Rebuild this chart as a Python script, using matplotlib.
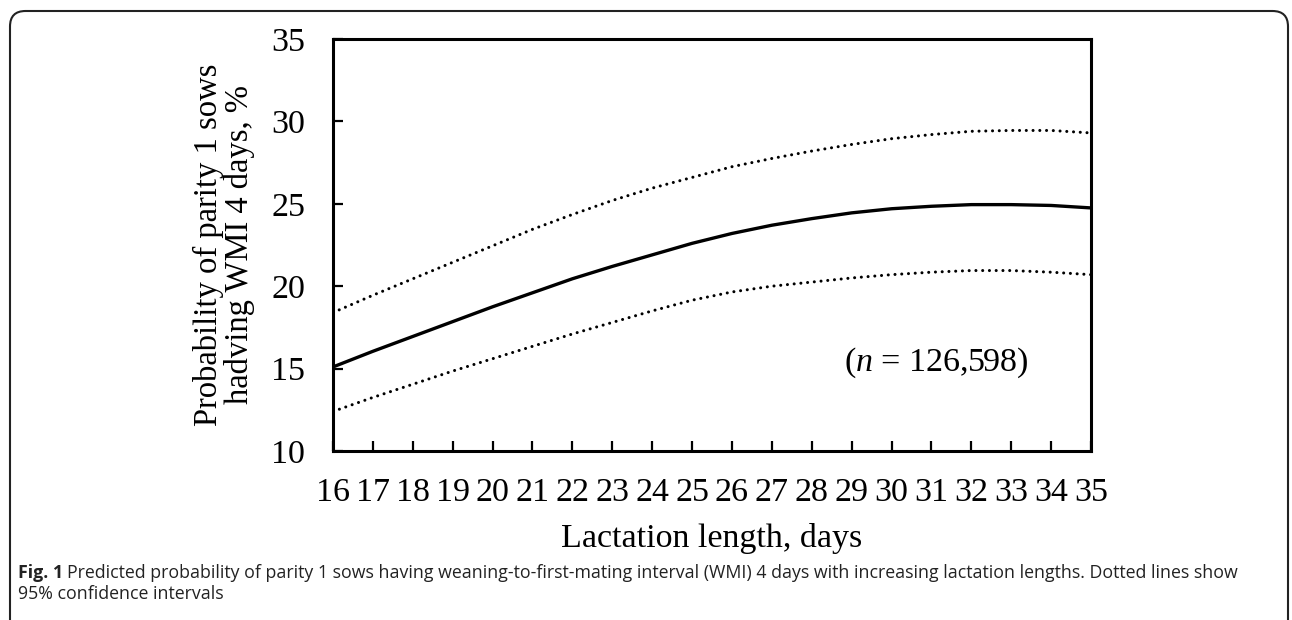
import matplotlib
matplotlib.use("Agg")
import matplotlib.pyplot as plt
from matplotlib.patches import FancyBboxPatch

days = list(range(16, 36))
mean_prob = [15.1, 16.05, 16.95, 17.85, 18.75, 19.6, 20.45, 21.2, 21.9, 22.6,
             23.2, 23.7, 24.1, 24.45, 24.7, 24.85, 24.95, 24.95, 24.9, 24.75]
upper_ci = [18.4, 19.45, 20.45, 21.45, 22.45, 23.45, 24.35, 25.2, 25.95, 26.6,
            27.25, 27.75, 28.2, 28.6, 28.95, 29.2, 29.4, 29.45, 29.45, 29.3]
lower_ci = [12.4, 13.25, 14.05, 14.85, 15.6, 16.35, 17.1, 17.8, 18.5, 19.15,
            19.65, 20.0, 20.25, 20.5, 20.7, 20.85, 20.95, 20.95, 20.85, 20.7]
y_ticks = [10, 15, 20, 25, 30, 35]

serif = "Liberation Serif"
plt.rcParams["mathtext.fontset"] = "custom"
plt.rcParams["mathtext.rm"] = "Liberation Serif"
plt.rcParams["mathtext.it"] = "Liberation Serif:italic"

fig = plt.figure(figsize=(12.92, 6.2), dpi=100)
W, H = 1292, 620
ax = fig.add_axes([333 / W, 1 - 451 / H, (1091 - 333) / W, (451 - 39) / H])

dot = (0, (0.01, 2.2))
ax.plot(days, mean_prob, color="black", lw=2.4, solid_capstyle="butt")
ax.plot(days, upper_ci, color="black", lw=2.2, linestyle=dot, dash_capstyle="round")
ax.plot(days, lower_ci, color="black", lw=2.2, linestyle=dot, dash_capstyle="round")

ax.set_xlim(16, 35)
ax.set_ylim(10, 35)
ax.set_xticks(days)
ax.set_yticks(y_ticks)
ax.tick_params(axis="both", direction="in", length=7, width=1.6, labelsize=24.5)
ax.tick_params(axis="y", pad=20)
ax.tick_params(axis="x", pad=19)
for lab in ax.get_xticklabels() + ax.get_yticklabels():
    lab.set_fontfamily(serif)
for sp in ax.spines.values():
    sp.set_linewidth(2.2)

ax.set_xlabel("Lactation length, days", fontsize=24.5, fontfamily=serif, labelpad=11)
ax.set_ylabel("Probability of parity 1 sows\nhadving WMI 4 days, %", fontsize=23.5,
              fontfamily=serif, labelpad=12, linespacing=1.0)

ax.text(31.12, 15.35, r"($\it{n}$ = 126,598)", fontsize=24.5, fontfamily=serif,
        ha="center", va="center")

border = FancyBboxPatch((10 / W, -0.05), (1288 - 10) / W, 1.05 - 11 / H,
                        boxstyle="round,pad=0,rounding_size=0.012",
                        transform=fig.transFigure, fill=False, lw=1.5,
                        edgecolor="#222222", mutation_aspect=W / H)
fig.patches.append(border)

cap_y1 = 1 - 573 / H
cap_y2 = 1 - 594 / H
fig.text(18 / W, cap_y1, "Fig. 1", fontsize=12.8, va="center", ha="left",
         fontfamily="Open Sans", fontweight="bold", color="#222222")
fig.text(67 / W, cap_y1,
         "Predicted probability of parity 1 sows having weaning-to-first-mating interval (WMI) 4 days with increasing lactation lengths. Dotted lines show",
         fontsize=12.8, va="center", ha="left", fontfamily="Open Sans", color="#222222")
fig.text(18 / W, cap_y2, "95% confidence intervals",
         fontsize=12.8, va="center", ha="left", fontfamily="Open Sans", color="#222222")

fig.savefig("out.png", dpi=100)
